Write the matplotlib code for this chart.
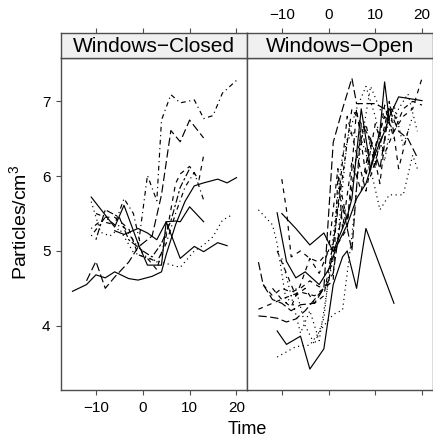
import matplotlib
matplotlib.use('Agg')
import matplotlib.pyplot as plt

plt.rcParams['font.family'] = ['Liberation Sans', 'DejaVu Sans']
plt.rcParams['mathtext.fontset'] = 'custom'
plt.rcParams['mathtext.rm'] = 'Liberation Sans'

# ---------------- data ----------------
panels = ["Windows\u2212Closed", "Windows\u2212Open"]
x_ticks = [-10, 0, 10, 20]
y_ticks = [4, 5, 6, 7]
x_label = "Time"
y_label = "Particles/cm$^{\\mathregular{3}}$"

# Windows-Closed subjects
c1_t = [-15, -12, -10, -8, -6, -3, -1, 2, 4, 5, 7, 9, 11, 13, 16, 18, 20]
c1_y = [4.46, 4.55, 4.68, 4.64, 4.72, 4.63, 4.61, 4.66, 4.72, 4.95, 5.35, 5.66, 5.87, 5.91, 5.96, 5.91, 5.98]
c2_t = [-11, -6, -4, -1, 1, 4, 5, 8, 11, 13, 16, 18]
c2_y = [5.72, 5.32, 5.61, 5.10, 4.81, 4.81, 5.39, 4.90, 5.06, 4.99, 5.11, 5.07]
c3_t = [-6, -4, -1, 1, 3, 5, 7, 8, 10, 13]
c3_y = [5.27, 5.22, 5.30, 5.24, 5.15, 5.39, 5.40, 5.39, 5.59, 5.39]
c4_t = [-11, -8, -6, -4, -1, 1, 3, 4, 6, 8, 11, 13, 15, 17, 20]
c4_y = [5.20, 5.45, 5.35, 5.32, 5.05, 6.01, 5.67, 6.75, 7.09, 6.98, 7.02, 6.77, 6.81, 7.11, 7.28]
c5_t = [-12, -10, -8, -6, -3, -1, 2, 4, 6, 8, 10, 13]
c5_y = [4.60, 4.86, 4.50, 4.65, 4.85, 5.05, 5.20, 5.75, 6.61, 6.46, 6.75, 6.51]
c6_t = [-10, -8, -6, -3, -1, 1, 3, 5, 7, 8, 10, 12, 13]
c6_y = [5.50, 5.45, 5.45, 5.30, 4.95, 4.90, 4.75, 5.20, 5.90, 6.03, 6.13, 5.95, 6.28]
c7_t = [-11, -9, -7, -5, -2, 1, 4, 8, 11, 13, 15, 17, 19]
c7_y = [5.66, 5.25, 5.20, 5.30, 4.98, 4.90, 4.85, 4.78, 5.00, 5.08, 5.19, 5.41, 5.48]
c8_t = [-11, -9, -6, -4, -2, 0, 3, 5, 7, 9, 11, 13]
c8_y = [5.30, 5.40, 5.35, 5.70, 5.50, 4.95, 4.85, 5.10, 5.50, 5.85, 6.05, 5.68]
c9_t = [-10, -8, -5, -3, 0, 2, 4, 6, 8, 10]
c9_y = [5.15, 5.55, 5.45, 5.15, 5.00, 4.92, 5.10, 5.40, 5.85, 6.10]

# Windows-Open subjects
o1_t = [-11, -9, -7, -5, -2, 0, 2, 4, 6, 8, 10, 12, 13, 15, 17, 20]
o1_y = [5.51, 4.86, 4.64, 4.72, 4.55, 4.75, 5.10, 5.35, 5.70, 5.90, 6.30, 6.60, 6.79, 7.06, 7.04, 7.01]
o2_t = [-10, -7, -4, -1, 1, 4, 5, 7, 9, 11, 12, 13]
o2_y = [5.50, 5.30, 5.08, 5.24, 4.99, 5.46, 5.70, 6.90, 6.10, 6.60, 7.26, 6.75]
o3_t = [-11, -9, -6, -4, -1, 1, 3, 4, 6, 8, 11, 14]
o3_y = [3.93, 3.75, 3.86, 3.42, 3.69, 4.55, 4.92, 5.00, 4.50, 5.30, 4.80, 4.30]
o4_t = [-15, -14, -12, -10, -8, -6, -3, -1, 1, 3, 5, 6, 8, 10, 12, 13]
o4_y = [4.85, 4.55, 4.35, 4.30, 4.20, 4.28, 4.30, 4.50, 6.45, 6.90, 7.31, 6.97, 6.97, 6.97, 6.90, 6.75]
o5_t = [-10, -9, -8, -6, -4, -2, 0, 2, 3, 5, 7, 9, 11, 13, 15, 17]
o5_y = [5.96, 5.55, 4.92, 5.00, 4.90, 4.85, 5.00, 6.10, 5.30, 6.20, 5.80, 6.50, 5.90, 7.00, 6.10, 6.60]
o6_t = [-15, -12, -9, -6, -3, -1, 1, 2, 4, 6, 8, 10, 12, 14, 16, 18, 20]
o6_y = [4.22, 4.30, 4.38, 4.45, 4.40, 4.50, 4.60, 6.00, 5.40, 6.30, 5.80, 6.40, 6.80, 6.60, 6.80, 6.90, 7.31]
o7_t = [-15, -12, -11, -9, -7, -5, -3, -1, 1, 3, 5, 7, 9, 11, 13, 15, 17, 19]
o7_y = [5.55, 5.35, 5.10, 4.30, 4.50, 4.00, 3.75, 4.10, 5.20, 6.30, 6.60, 6.45, 7.20, 6.90, 6.60, 6.90, 7.10, 6.60]
o8_t = [-11, -9, -7, -4, -1, 1, 3, 5, 7, 9, 11, 13, 16, 18, 19]
o8_y = [3.58, 3.65, 3.72, 3.74, 4.00, 4.15, 4.21, 5.20, 6.50, 6.10, 5.55, 5.75, 5.75, 6.28, 6.10]
o9_t = [-14, -12, -10, -8, -6, -4, -2, 0, 2, 4, 6, 8, 10, 12, 14]
o9_y = [4.55, 4.40, 4.50, 4.45, 4.50, 4.60, 4.52, 4.55, 5.60, 6.80, 6.30, 6.70, 6.10, 6.95, 6.50]
o10_t = [-15, -13, -11, -9, -7, -5, -3, -1, 1, 3, 5, 7, 9, 11, 13, 15, 17, 19]
o10_y = [4.13, 4.12, 4.10, 4.05, 4.09, 4.20, 4.35, 4.50, 4.70, 5.60, 5.00, 6.70, 6.50, 6.10, 6.90, 6.60, 6.50, 6.25]
o11_t = [-10, -8, -6, -4, -2, 0, 2, 4, 6, 8, 10, 12, 14, 16, 18]
o11_y = [4.90, 4.40, 3.90, 4.20, 3.80, 4.60, 5.20, 6.50, 6.90, 7.20, 6.80, 6.20, 6.95, 6.40, 6.80]
o12_t = [-12, -10, -8, -6, -4, -2, 0, 2, 4, 6, 8, 10, 12, 14, 16, 18, 20]
o12_y = [4.50, 4.35, 4.25, 4.55, 4.90, 4.70, 5.00, 5.10, 5.30, 6.90, 6.00, 6.70, 6.30, 6.60, 6.90, 7.00, 6.95]
o13_t = [-11, -9, -7, -5, -3, -1, 1, 3, 5, 7, 9, 11, 13, 15]
o13_y = [5.00, 4.70, 4.40, 4.50, 4.30, 4.40, 5.10, 6.00, 6.90, 6.70, 6.00, 6.40, 6.95, 6.70]

closed_series = [(c1_t, c1_y), (c2_t, c2_y), (c3_t, c3_y), (c4_t, c4_y), (c5_t, c5_y),
                 (c6_t, c6_y), (c7_t, c7_y), (c8_t, c8_y), (c9_t, c9_y)]
closed_lty = ['solid', 'solid', 'solid', 'dotdash', 'longdash', 'dashed', 'dotted', 'dotdash', 'twodash']
open_series = [(o1_t, o1_y), (o2_t, o2_y), (o3_t, o3_y), (o4_t, o4_y), (o5_t, o5_y),
               (o6_t, o6_y), (o7_t, o7_y), (o8_t, o8_y), (o9_t, o9_y), (o10_t, o10_y),
               (o11_t, o11_y), (o12_t, o12_y), (o13_t, o13_y)]
open_lty = ['solid', 'solid', 'solid', 'longdash', 'dashed', 'dashed', 'dotted', 'dotted',
            'dashed', 'longdash', 'dotted', 'dashed', 'dashed']

# ---------------- styles ----------------
LTY = {'solid': '-', 'dashed': (0, (4, 4)), 'dotted': (0, (1, 3)),
       'dotdash': (0, (1, 3, 4, 3)), 'longdash': (0, (7, 3)), 'twodash': (0, (2, 2, 6, 2))}
W, H = 433, 442
EDGE = '#4d4d4d'


def rect(x0, x1, y0, y1):
    return [x0 / W, 1 - y1 / H, (x1 - x0) / W, (y1 - y0) / H]


fig = plt.figure(figsize=(W / 100, H / 100), dpi=100)
fig.patch.set_facecolor('white')
XL = (-17.45, 22.25)
YL = (3.14, 7.58)

axL = fig.add_axes(rect(61, 247, 58, 390))
axR = fig.add_axes(rect(247, 432.5, 58, 390))
sL = fig.add_axes(rect(61, 247, 33, 58))
sR = fig.add_axes(rect(247, 432.5, 33, 58))

for ax, series, ltys in [(axL, closed_series, closed_lty), (axR, open_series, open_lty)]:
    for (t, y), lt in zip(series, ltys):
        ax.plot(t, y, color='black', lw=0.85, linestyle=LTY[lt])
    ax.set_xlim(*XL)
    ax.set_ylim(*YL)
    ax.set_xticks(x_ticks)
    ax.set_yticks(y_ticks)
    for sp in ax.spines.values():
        sp.set_color(EDGE)
        sp.set_linewidth(1.0)
    ax.tick_params(direction='out', length=3.6, width=0.8, color=EDGE,
                   labelsize=11, pad=4)

axL.tick_params(axis='y', left=True, labelleft=True, right=False)
axL.tick_params(axis='x', bottom=True, labelbottom=True, top=False)
axL.set_xticklabels([str(v).replace('-', '\u2212') for v in x_ticks])
axL.set_yticklabels([str(v) for v in y_ticks])
axR.tick_params(axis='y', left=False, labelleft=False, right=False)
axR.tick_params(axis='x', bottom=True, labelbottom=False)

for s, name, lab in [(sL, panels[0], False), (sR, panels[1], True)]:
    s.set_facecolor('#f0f0f0')
    s.set_xlim(*XL)
    s.set_ylim(0, 1)
    s.set_yticks([])
    s.set_xticks(x_ticks)
    s.xaxis.tick_top()
    s.tick_params(axis='x', direction='out', length=3.6, width=0.8, color=EDGE,
                  labelsize=11, pad=4, labeltop=lab, labelbottom=False, bottom=False)
    if lab:
        s.set_xticklabels([str(v).replace('-', '\u2212') for v in x_ticks])
    for sp in s.spines.values():
        sp.set_color(EDGE)
        sp.set_linewidth(1.0)
    s.text(0.5, 0.46, name, transform=s.transAxes, ha='center', va='center', fontsize=15)

fig.text(247.5 / W, 1 - 430 / H, x_label, ha='center', va='center', fontsize=13)
fig.text(20 / W, 1 - 222 / H, y_label, ha='center', va='center', rotation=90, fontsize=14)

fig.savefig('out.png', dpi=100)
